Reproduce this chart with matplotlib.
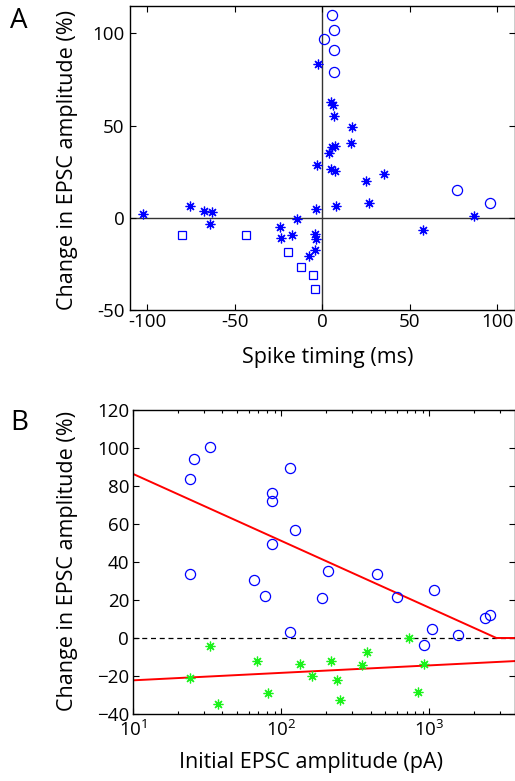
import matplotlib
matplotlib.use("Agg")
import matplotlib.pyplot as plt
import numpy as np

plt.rcParams['font.family'] = ['Open Sans', 'DejaVu Sans']
plt.rcParams['mathtext.fontset'] = 'custom'
plt.rcParams['mathtext.rm'] = 'Open Sans'
plt.rcParams['mathtext.it'] = 'Open Sans'

# ---------------- Panel A data ----------------
a_circle_x = [5.3, 6.7, 1.1, 6.9, 7.0, 77.1, 95.8]
a_circle_y = [109.7, 102.0, 97.1, 91.2, 79.2, 15.3, 8.1]

a_square_x = [-80.2, -43.8, -19.4, -12.4, -5.5, -4.0]
a_square_y = [-9.6, -9.2, -18.8, -26.9, -31.2, -38.8]

a_star_x = [-102.7, -75.4, -67.4, -62.9, -64.0, -14.5, -24.0, -23.8, -17.5, -7.8,
            -4.4, -3.8, -4.4, -3.4, -3.2, -2.7, 5.1, 5.9, 6.9, 3.6,
            5.7, 7.2, 5.1, 7.4, 7.6, 16.8, 16.2, 25.3, 26.5, 35.4,
            57.5, 87.0]
a_star_y = [2.3, 6.3, 3.8, 3.1, -3.1, -0.7, -4.9, -10.8, -9.6, -20.6,
            -9.0, -11.7, -17.5, 4.5, 28.7, 83.4, 62.8, 61.0, 55.4, 35.2,
            38.4, 39.0, 26.5, 25.1, 6.3, 49.1, 40.3, 20.0, 7.9, 23.6,
            -6.7, 0.9]

a_xticks = [-100, -50, 0, 50, 100]
a_xticklabels = ['-100', '-50', '0', '50', '100']
a_yticks = [-50, 0, 50, 100]
a_yticklabels = ['-50', '0', '50', '100']

# ---------------- Panel B data ----------------
b_circle_x = [24.0, 25.8, 32.7, 24.1, 86.5, 86.5, 86.5, 113.8, 123, 65.0,
              78, 115, 208, 189, 443, 602, 1081, 1042, 912, 1560,
              2360, 2578]
b_circle_y = [83.8, 94.1, 100.5, 33.5, 76.4, 72.1, 49.6, 89.7, 56.7, 30.5,
              22.0, 3.2, 35.3, 20.9, 33.5, 21.4, 25.5, 4.6, -3.9, 1.4,
              10.5, 12.1]

b_star_x = [32.9, 24.1, 37.4, 68.5, 81.7, 133, 162, 217, 239, 249,
            348, 376, 726, 912, 840]
b_star_y = [-4.1, -21.1, -34.7, -11.9, -29.1, -13.5, -19.9, -11.9, -22.2, -32.6,
            -14.4, -7.3, -0.2, -13.5, -28.4]

# regression fits: y = intercept + slope * log10(x)
fit_pot = [121.5, -35.2]   # potentiation (clipped at 0)
fit_dep = [-26.2, 3.93]    # depression

b_yticks = [-40, -20, 0, 20, 40, 60, 80, 100, 120]

W, H = 515, 781
fig = plt.figure(figsize=(W / 100, H / 100), dpi=100)

def box(l, t, r, b):
    return [l / W, 1 - b / H, (r - l) / W, (b - t) / H]

star = (8, 2, 0)
blue = (0, 0, 1)
green = (0.1, 0.95, 0.1)
TICK_FS = 13.5
LABEL_FS = 15.5

# ---------------- Panel A ----------------
axA = fig.add_axes(box(130, 5.7, 514.5, 310))
axA.axhline(0, color='#333333', lw=1.0, zorder=1)
axA.axvline(0, color='#333333', lw=1.0, zorder=1)
axA.plot(a_circle_x, a_circle_y, 'o', mfc='none', mec=blue, ms=7.3, mew=0.9, zorder=3)
axA.plot(a_square_x, a_square_y, 's', mfc='none', mec=blue, ms=6.3, mew=0.9, zorder=3)
axA.plot(a_star_x, a_star_y, ls='none', marker=star, mfc='none', mec=blue, ms=7.0, mew=0.9, zorder=3)
axA.set_xlim(-110, 110)
axA.set_ylim(-50, 115)
axA.set_xticks(a_xticks)
axA.set_xticklabels(a_xticklabels)
axA.set_yticks(a_yticks)
axA.set_yticklabels(a_yticklabels)
axA.tick_params(direction='in', top=True, right=True, length=4, width=0.8,
                labelsize=TICK_FS)
axA.tick_params(axis='x', pad=2)
axA.tick_params(axis='y', pad=4)
axA.set_xlabel('Spike timing (ms)', fontsize=LABEL_FS)
axA.set_ylabel('Change in EPSC amplitude (%)', fontsize=LABEL_FS)
axA.xaxis.set_label_coords(0.513, -0.122)
axA.yaxis.set_label_coords(-0.135, 0.493)
for s in axA.spines.values():
    s.set_linewidth(1.0)
fig.text(9.5 / W, 1 - 28 / H, 'A', fontsize=20, va='baseline', ha='left')

# ---------------- Panel B ----------------
axB = fig.add_axes(box(133.3, 410, 514.5, 714))
xx = np.logspace(1, np.log10(3750), 400)
axB.axhline(0, color='black', lw=0.9, ls=(0, (4, 3)), zorder=1)
pot = np.maximum(0, fit_pot[0] + fit_pot[1] * np.log10(xx))
dep = fit_dep[0] + fit_dep[1] * np.log10(xx)
axB.plot(xx, pot, color='red', lw=1.4, zorder=2)
axB.plot(xx, dep, color='red', lw=1.4, zorder=2)
axB.plot(b_circle_x, b_circle_y, 'o', mfc='none', mec=blue, ms=7.3, mew=0.9, zorder=3)
axB.plot(b_star_x, b_star_y, ls='none', marker=star, mfc='none', mec=green, ms=7.0, mew=0.9, zorder=3)
axB.set_xscale('log')
axB.set_xlim(10, 3750)
axB.set_ylim(-40, 120)
axB.set_yticks(b_yticks)
axB.tick_params(which='both', direction='in', top=True, right=True, width=0.8, labelsize=TICK_FS)
axB.tick_params(which='major', length=4)
axB.tick_params(which='minor', length=2)
axB.tick_params(axis='x', which='both', pad=4)
axB.tick_params(axis='y', which='both', pad=3)
axB.set_xlabel('Initial EPSC amplitude (pA)', fontsize=LABEL_FS)
axB.set_ylabel('Change in EPSC amplitude (%)', fontsize=LABEL_FS)
axB.xaxis.set_label_coords(0.467, -0.125)
axB.yaxis.set_label_coords(-0.145, 0.503)
for s in axB.spines.values():
    s.set_linewidth(1.0)
fig.text(10 / W, 1 - 430 / H, 'B', fontsize=20, va='baseline', ha='left')

fig.savefig('out.png', dpi=100)
